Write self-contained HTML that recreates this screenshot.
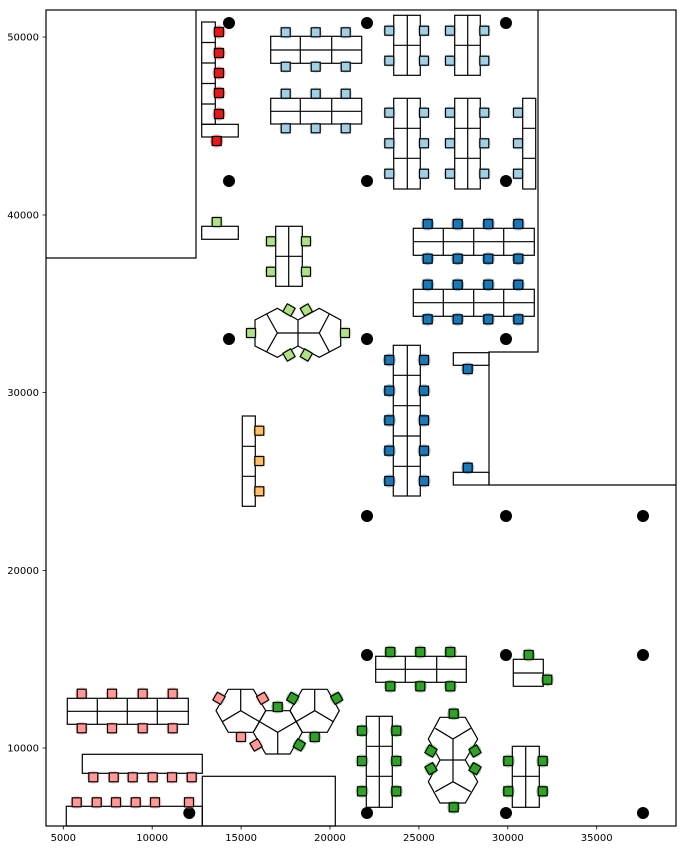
<!DOCTYPE html>
<html><head><meta charset="utf-8"><style>
html,body{margin:0;padding:0;background:#fff;}
svg{display:block;font-family:"DejaVu Sans","Liberation Sans",sans-serif;}
</style></head><body>
<svg width="687" height="850" viewBox="0 0 687 850" xmlns="http://www.w3.org/2000/svg">
<defs>
<g id="c"><circle r="6.5" fill="currentColor" opacity="0.45"/><rect x="-4.5" y="-4.5" width="9" height="9" fill="currentColor" stroke="#000" stroke-width="1.2"/></g>
<g id="d"><circle r="6" fill="#000"/></g>
</defs>
<g fill="none" stroke="#000" stroke-width="1.2">
<rect x="46" y="10" width="630" height="816"/>
<polyline points="196,10 196,258 46,258"/>
<polyline points="538,10 538,352 489,352 489,485 676,485"/>
<rect x="202.3" y="776.3" width="133" height="49.7"/>
<rect x="66.3" y="806.3" width="136" height="19.7"/>
<rect x="82.3" y="754.3" width="120" height="19"/>
<!-- red column -->
<rect x="201.7" y="22" width="13.6" height="102.3"/>
<path d="M201.7 42.5H215.3M201.7 63H215.3M201.7 83.5H215.3M201.7 104H215.3"/>
<rect x="201.7" y="124.3" width="36.6" height="12.7"/>
<!-- light blue horizontal desks -->
<rect x="270.7" y="36.3" width="91" height="27"/><path d="M270.7 50H361.7M300.3 36.3V63.3M331.7 36.3V63.3"/>
<rect x="270.7" y="98.3" width="91" height="25.7"/><path d="M270.7 111.3H361.7M300.3 98.3V124M331.7 98.3V124"/>
<!-- light blue vertical -->
<rect x="393.7" y="15.3" width="26.6" height="60"/><path d="M407.3 15.3V75.3M393.7 45.3H420.3"/>
<rect x="454.7" y="15.3" width="25.6" height="60"/><path d="M467.7 15.3V75.3M454.7 45.3H480.3"/>
<rect x="393.7" y="98.3" width="26.6" height="90.7"/><path d="M407.3 98.3V189M393.7 128.3H420.3M393.7 158.3H420.3"/>
<rect x="454.7" y="98.3" width="25.6" height="90.7"/><path d="M467.7 98.3V189M454.7 128.3H480.3M454.7 158.3H480.3"/>
<rect x="522.7" y="98.3" width="13" height="90.7"/><path d="M522.7 128.3H535.7M522.7 158.3H535.7"/>
<!-- light green -->
<rect x="201.7" y="226.3" width="36.6" height="13"/>
<rect x="275.7" y="226.3" width="26.6" height="60"/><path d="M288.7 226.3V286.3M275.7 256.3H302.3"/>
<polygon points="255,320 277.3,308.3 298,320 319.3,308.3 340.7,320 340.7,346 319.3,357.3 298,346 277.3,357.3 255,346"/>
<path d="M266.7 314L277.3 333L266.7 351.7M277.3 333H319.3M329.3 314L319.3 333L329.3 351.7M298 320V346" />
<!-- dark blue -->
<rect x="413.3" y="228.3" width="121" height="27"/><path d="M413.3 241.7H534.3M443.3 228.3V255.3M473.7 228.3V255.3M503.7 228.3V255.3"/>
<rect x="413.3" y="289.3" width="121" height="27"/><path d="M413.3 302.7H534.3M443.3 289.3V316.3M473.7 289.3V316.3M503.7 289.3V316.3"/>
<rect x="393.3" y="345.3" width="27" height="150.7"/><path d="M407.3 345.3V496M393.3 375.3H420.3M393.3 405.7H420.3M393.3 436H420.3M393.3 466.3H420.3"/>
<rect x="453.3" y="352.7" width="35.7" height="12.6"/>
<rect x="453.3" y="472.3" width="35.7" height="12.7"/>
<!-- orange -->
<rect x="242.3" y="416" width="13" height="90.3"/><path d="M242.3 446.3H255.3M242.3 476.3H255.3"/>
<!-- pink desk -->
<rect x="67.3" y="698.3" width="121" height="26"/><path d="M67.3 711.3H188.3M97.3 698.3V724.3M127.3 698.3V724.3M157.3 698.3V724.3"/>
<!-- hex cluster bottom -->
<polygon points="228.3,689.3 253.3,689.3 265.7,710.7 253.3,732.3 228.3,732.3 216,710.7"/>
<polygon points="302.3,689.3 327.3,689.3 339.3,710.7 327.3,732.3 302.3,732.3 290,710.7"/>
<polygon points="265.7,710.7 290,710.7 302.3,732.3 290,754 265.7,754 253.3,732.3"/>
<path d="M240.7 689.3V710.7M222.3 721.7L240.7 710.7L277.7 732.3M314.7 689.3V710.7L333.3 721.7M314.7 710.7L277.7 732.3V754"/>
<!-- green -->
<rect x="375.7" y="656.3" width="90.6" height="26"/><path d="M375.7 669.3H466.3M405.3 656.3V682.3M436.7 656.3V682.3"/>
<rect x="513.3" y="659.3" width="30" height="27"/><path d="M513.3 673H543.3"/>
<rect x="366.3" y="716.3" width="26" height="91"/><path d="M379.3 716.3V807.3M366.3 746.3H392.3M366.3 776.3H392.3"/>
<polygon points="440,717.3 465.3,717.3 477.7,739 465.3,760 477.7,781.7 465.3,803 440,803 428.3,781.7 440,760 428.3,739"/>
<path d="M440 760H465.3M453 739V781.7M435.3 728.3L453 739L470.7 728.3M435.3 791.7L453 781.7L470.7 791.7"/>
<rect x="512.3" y="746.3" width="27" height="61"/><path d="M525.7 746.3V807.3M512.3 776.3H539.3"/>
</g>
<!-- pillars -->
<g>
<use href="#d" x="229" y="23"/><use href="#d" x="367" y="23"/><use href="#d" x="506" y="23"/>
<use href="#d" x="229" y="181"/><use href="#d" x="367" y="181"/><use href="#d" x="506" y="181"/>
<use href="#d" x="229" y="339"/><use href="#d" x="367" y="339"/><use href="#d" x="506" y="339"/>
<use href="#d" x="367" y="516"/><use href="#d" x="506" y="516"/><use href="#d" x="643" y="516"/>
<use href="#d" x="367" y="655"/><use href="#d" x="506" y="655"/><use href="#d" x="643" y="655"/>
<use href="#d" x="367" y="813"/><use href="#d" x="506" y="813"/><use href="#d" x="643" y="813"/><use href="#d" x="189.3" y="813"/>
</g>
<!-- red chairs -->
<g style="color:#e31a1c">
<use href="#c" x="219" y="32"/><use href="#c" x="219" y="53"/><use href="#c" x="219" y="73"/><use href="#c" x="219" y="93"/><use href="#c" x="219" y="114"/><use href="#c" x="216.7" y="141"/>
</g>
<!-- light blue chairs -->
<g style="color:#a6cee3">
<use href="#c" x="285.7" y="32.3"/><use href="#c" x="315.7" y="32.3"/><use href="#c" x="345.7" y="32.3"/>
<use href="#c" x="285.7" y="66.7"/><use href="#c" x="315.7" y="66.7"/><use href="#c" x="345.7" y="66.7"/>
<use href="#c" x="285.7" y="93.7"/><use href="#c" x="315.7" y="93.7"/><use href="#c" x="345.7" y="93.7"/>
<use href="#c" x="285.7" y="128.3"/><use href="#c" x="315.7" y="128.3"/><use href="#c" x="345.7" y="128.3"/>
<use href="#c" x="389.3" y="30.7"/><use href="#c" x="424" y="30.7"/><use href="#c" x="389.3" y="60.7"/><use href="#c" x="424" y="60.7"/>
<use href="#c" x="450" y="30.7"/><use href="#c" x="484.3" y="30.7"/><use href="#c" x="450" y="60.7"/><use href="#c" x="484.3" y="60.7"/>
<use href="#c" x="389.3" y="112.7"/><use href="#c" x="424" y="112.7"/><use href="#c" x="389.3" y="143.3"/><use href="#c" x="424" y="143.3"/><use href="#c" x="389.3" y="173.7"/><use href="#c" x="424" y="173.7"/>
<use href="#c" x="450" y="112.7"/><use href="#c" x="484.3" y="112.7"/><use href="#c" x="450" y="143.3"/><use href="#c" x="484.3" y="143.3"/><use href="#c" x="450" y="173.7"/><use href="#c" x="484.3" y="173.7"/>
<use href="#c" x="518" y="112.7"/><use href="#c" x="518" y="143.3"/><use href="#c" x="518" y="173.7"/>
</g>
<!-- light green chairs -->
<g style="color:#b2df8a">
<use href="#c" x="216.7" y="222"/>
<use href="#c" x="271" y="241.3"/><use href="#c" x="306" y="241.3"/><use href="#c" x="271" y="271.7"/><use href="#c" x="306" y="271.7"/>
<use href="#c" x="251" y="333"/><use href="#c" x="345" y="333"/>
<use href="#c" transform="translate(289,310) rotate(30)"/><use href="#c" transform="translate(306.3,310) rotate(-30)"/>
<use href="#c" transform="translate(289,355) rotate(-30)"/><use href="#c" transform="translate(306.3,355) rotate(30)"/>
</g>
<!-- dark blue chairs -->
<g style="color:#1f78b4">
<use href="#c" x="427.7" y="224"/><use href="#c" x="457.7" y="224"/><use href="#c" x="488.3" y="224"/><use href="#c" x="518.3" y="224"/>
<use href="#c" x="427.7" y="258.7"/><use href="#c" x="457.7" y="258.7"/><use href="#c" x="488.3" y="258.7"/><use href="#c" x="518.3" y="258.7"/>
<use href="#c" x="427.7" y="284.7"/><use href="#c" x="457.7" y="284.7"/><use href="#c" x="488.3" y="284.7"/><use href="#c" x="518.3" y="284.7"/>
<use href="#c" x="427.7" y="319.3"/><use href="#c" x="457.7" y="319.3"/><use href="#c" x="488.3" y="319.3"/><use href="#c" x="518.3" y="319.3"/>
<use href="#c" x="389.3" y="360"/><use href="#c" x="424" y="360"/><use href="#c" x="389.3" y="390.7"/><use href="#c" x="424" y="390.7"/>
<use href="#c" x="389.3" y="420.3"/><use href="#c" x="424" y="420.3"/><use href="#c" x="389.3" y="450.7"/><use href="#c" x="424" y="450.7"/>
<use href="#c" x="389.3" y="481"/><use href="#c" x="424" y="481"/>
<use href="#c" x="467.7" y="369"/><use href="#c" x="467.7" y="467.7"/>
</g>
<!-- orange -->
<g style="color:#fdbf6f">
<use href="#c" x="259.3" y="430.7"/><use href="#c" x="259.3" y="461"/><use href="#c" x="259.3" y="491.3"/>
</g>
<!-- pink -->
<g style="color:#fb9a99">
<use href="#c" x="81.7" y="693.7"/><use href="#c" x="112" y="693.7"/><use href="#c" x="142.7" y="693.7"/><use href="#c" x="172.7" y="693.7"/>
<use href="#c" x="81.7" y="728.3"/><use href="#c" x="112" y="728.3"/><use href="#c" x="142.7" y="728.3"/><use href="#c" x="172.7" y="728.3"/>
<use href="#c" x="93.3" y="777.3"/><use href="#c" x="113.7" y="777.3"/><use href="#c" x="132.7" y="777.3"/><use href="#c" x="152.7" y="777.3"/><use href="#c" x="172" y="777.3"/><use href="#c" x="191.7" y="777.3"/>
<use href="#c" x="76.7" y="802.3"/><use href="#c" x="96.7" y="802.3"/><use href="#c" x="116" y="802.3"/><use href="#c" x="135.7" y="802.3"/><use href="#c" x="155" y="802.3"/><use href="#c" x="189" y="802.3"/>
<use href="#c" transform="translate(219,698.3) rotate(30)"/><use href="#c" transform="translate(262.7,698.3) rotate(-30)"/>
<use href="#c" x="241" y="737"/><use href="#c" transform="translate(256,745) rotate(-30)"/>
</g>
<!-- green -->
<g style="color:#33a02c">
<use href="#c" x="277.7" y="707"/><use href="#c" transform="translate(292.7,698.3) rotate(30)"/><use href="#c" transform="translate(336.7,698.3) rotate(-30)"/>
<use href="#c" x="314.7" y="737"/><use href="#c" transform="translate(299.3,745) rotate(30)"/>
<use href="#c" x="390.3" y="652"/><use href="#c" x="420.3" y="652"/><use href="#c" x="450.3" y="652"/>
<use href="#c" x="390.3" y="686.3"/><use href="#c" x="420.3" y="686.3"/><use href="#c" x="450.3" y="686.3"/>
<use href="#c" x="528.7" y="655"/><use href="#c" x="547.3" y="679.7"/>
<use href="#c" x="362" y="730.7"/><use href="#c" x="396.3" y="730.7"/><use href="#c" x="362" y="761"/><use href="#c" x="396.3" y="761"/><use href="#c" x="362" y="791.3"/><use href="#c" x="396.3" y="791.3"/>
<use href="#c" x="453.7" y="713.7"/><use href="#c" x="453.7" y="807.3"/>
<use href="#c" transform="translate(431,751) rotate(30)"/><use href="#c" transform="translate(431,768.7) rotate(-30)"/>
<use href="#c" transform="translate(475,751) rotate(-30)"/><use href="#c" transform="translate(475,768.7) rotate(30)"/>
<use href="#c" x="508.3" y="761"/><use href="#c" x="542.7" y="761"/><use href="#c" x="508.3" y="791.3"/><use href="#c" x="542.7" y="791.3"/>
</g>
<!-- axes ticks -->
<g stroke="#000" stroke-width="0.8">
<path d="M63.3 826v3.5M152.2 826v3.5M241.1 826v3.5M330 826v3.5M418.9 826v3.5M507.8 826v3.5M596.7 826v3.5"/>
<path d="M46 37h-3.5M46 215h-3.5M46 392.5h-3.5M46 570.5h-3.5M46 748h-3.5"/>
</g>
<g font-size="10" fill="#000" text-anchor="middle">
<text x="63.3" y="841">5000</text><text x="152.2" y="841">10000</text><text x="241.1" y="841">15000</text><text x="330" y="841">20000</text><text x="418.9" y="841">25000</text><text x="507.8" y="841">30000</text><text x="596.7" y="841">35000</text>
</g>
<g font-size="10" fill="#000" text-anchor="end">
<text x="39" y="40.5">50000</text><text x="39" y="218.5">40000</text><text x="39" y="396">30000</text><text x="39" y="574">20000</text><text x="39" y="751.5">10000</text>
</g>
</svg>
</body></html>
